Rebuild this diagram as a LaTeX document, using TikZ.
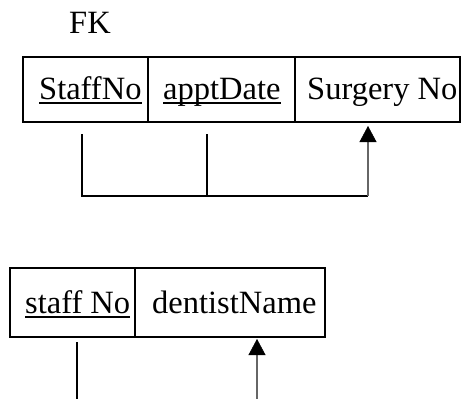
\documentclass[tikz,border=0pt]{standalone}
\usepackage{fontspec}
\setmainfont{Liberation Serif}
\usetikzlibrary{arrows.meta}
\begin{document}
\begin{tikzpicture}[x=1pt,y=-1pt,
  cell/.style={draw,line width=1.2pt,inner sep=0pt,outer sep=0pt,anchor=north west,minimum height=#1},
  cell/.default=65pt,
  field/.style={inner sep=0pt,anchor=base west,font=\fontsize{32.5}{39}\selectfont},
  keyline/.style={line width=1.1pt},
  link/.style={line width=1.2pt},
  fkarrow/.style={line width=2pt,draw=black!60,-{Triangle[length=16pt,width=17pt,color=black,line width=0.5pt]}}]
\useasboundingbox (0,0) rectangle (461,399);

% Appointment relation with its foreign key
\node[field] (fk) at (69,33) {FK};
\node[cell,minimum width=125pt] (c1) at (23,57) {};
\node[cell,minimum width=147pt] (c2) at (148,57) {};
\node[cell,minimum width=165pt] (c3) at (295,57) {};
\node[field] (staffno) at (39,99) {StaffNo};
\node[field] (apptdate) at (163,99) {apptDate};
\node[field] (surgery) at (307,99) {Surgery No};
\draw[keyline] ([yshift=-4pt]staffno.base west) -- ([yshift=-4pt]staffno.base east);
\draw[keyline] ([yshift=-4pt]apptdate.base west) -- ([yshift=-4pt]apptdate.base east);

\coordinate (d1) at (82,134);
\coordinate (d2) at (207,134);
\coordinate (j1) at (82,196);
\coordinate (j2) at (207,196);
\coordinate (j3) at (368,196);
\coordinate (t1) at (368,126);
\draw[link] (d1) -- (j1) -- (j3);
\draw[link] (d2) -- (j2);
\draw[fkarrow] (j3) -- (t1);

% Dentist relation
\node[cell=69pt,minimum width=125pt] (b1) at (10,268) {};
\node[cell=69pt,minimum width=190pt] (b2) at (135,268) {};
\node[field] (staffno2) at (25,313) {staff No};
\node[field] (dentist) at (152,313) {dentistName};
\draw[keyline] ([yshift=-4pt]staffno2.base west) -- ([yshift=-4pt]staffno2.base east);

\coordinate (e1) at (77,342);
\coordinate (e2) at (77,399);
\coordinate (f1) at (257,399);
\coordinate (f2) at (257,339);
\draw[link] (e1) -- (e2);
\draw[fkarrow] (f1) -- (f2);
\end{tikzpicture}
\end{document}
